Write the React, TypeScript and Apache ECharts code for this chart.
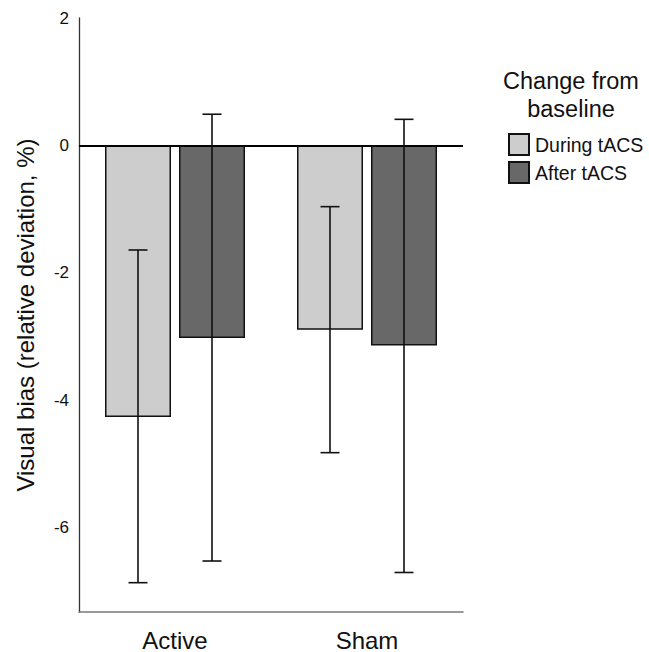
import React, { useEffect, useRef } from "react";
import * as echarts from "echarts";

const categories = ["Active", "Sham"];
const seriesNames = ["During tACS", "After tACS"];
const duringValues = [-4.26, -2.89];
const afterValues = [-3.02, -3.14];
const duringErrLow = [-6.86, -4.82];
const duringErrHigh = [-1.64, -0.96];
const afterErrLow = [-6.52, -6.70];
const afterErrHigh = [0.49, 0.41];
const yTickValues = [-6, -4, -2, 0, 2];

const BAR_W = 66;
const BAR_GAP = 8;
const CAP_W = 19;
const FONT = "'Liberation Sans', Arial, sans-serif";
const TEXT = "#111";

function errData(low: number[], high: number[]) {
  return categories.map((_, i) => [i, low[i], high[i]]);
}

function makeErrRender(offset: number) {
  return (params: any, api: any) => {
    const idx = api.value(0);
    const lo = api.coord([idx, api.value(1)]);
    const hi = api.coord([idx, api.value(2)]);
    const x = lo[0] + offset;
    const style = { stroke: "#111", lineWidth: 1.6 };
    return {
      type: "group",
      children: [
        { type: "line", shape: { x1: x, y1: hi[1], x2: x, y2: lo[1] }, style },
        { type: "line", shape: { x1: x - CAP_W / 2, y1: hi[1], x2: x + CAP_W / 2, y2: hi[1] }, style },
        { type: "line", shape: { x1: x - CAP_W / 2, y1: lo[1], x2: x + CAP_W / 2, y2: lo[1] }, style },
      ],
    };
  };
}

export default function App() {
  const ref = useRef<HTMLDivElement>(null);
  useEffect(() => {
    if (!ref.current) return;
    const chart = echarts.init(ref.current, null, { renderer: "svg" });
    const off = (BAR_W + BAR_GAP) / 2;
    chart.setOption({
      animation: false,
      textStyle: { fontFamily: FONT, color: TEXT },
      title: {
        text: "Change from\nbaseline",
        left: 566,
        top: 62,
        textAlign: "center",
        textStyle: { fontFamily: FONT, fontSize: 23.5, fontWeight: "normal", color: TEXT, lineHeight: 28 },
      },
      legend: {
        orient: "vertical",
        left: 503,
        top: 128,
        itemWidth: 20,
        itemHeight: 21,
        itemGap: 5,
        icon: "rect",
        data: seriesNames,
        textStyle: { fontFamily: FONT, fontSize: 19.5, color: TEXT, padding: [0, 0, 0, 1] },
      },
      grid: { left: 79, top: 18, right: 186, bottom: 40, containLabel: false },
      xAxis: {
        type: "category",
        data: categories,
        axisLine: { show: true, onZero: false, lineStyle: { color: "#777", width: 1.5 } },
        axisTick: { show: false },
        axisLabel: { fontFamily: FONT, fontSize: 24, color: TEXT, margin: 16 },
      },
      yAxis: {
        type: "value",
        min: -7.32,
        max: 2,
        name: "Visual bias (relative deviation, %)",
        nameLocation: "middle",
        nameGap: 42,
        nameTextStyle: { fontFamily: FONT, fontSize: 24, color: TEXT },
        axisLine: { show: true, lineStyle: { color: "#333", width: 1.3 } },
        axisTick: { show: false },
        splitLine: { show: false },
        axisLabel: {
          customValues: yTickValues,
          fontFamily: FONT,
          fontSize: 17,
          color: TEXT,
          margin: 10,
        },
      },
      series: [
        {
          name: seriesNames[0],
          type: "bar",
          data: duringValues,
          barWidth: BAR_W,
          barGap: `${(BAR_GAP / BAR_W) * 100}%`,
          itemStyle: { color: "#cdcdcd", borderColor: "#111", borderWidth: 1.5 },
          markLine: {
            silent: true,
            symbol: "none",
            label: { show: false },
            lineStyle: { color: "#000", width: 2.2, type: "solid" },
            data: [{ yAxis: 0 }],
          },
        },
        {
          name: seriesNames[1],
          type: "bar",
          data: afterValues,
          barWidth: BAR_W,
          itemStyle: { color: "#686868", borderColor: "#111", borderWidth: 1.5 },
        },
        {
          type: "custom",
          renderItem: makeErrRender(-off),
          data: errData(duringErrLow, duringErrHigh),
          z: 10,
        },
        {
          type: "custom",
          renderItem: makeErrRender(off),
          data: errData(afterErrLow, afterErrHigh),
          z: 10,
        },
      ],
    });
    return () => chart.dispose();
  }, []);
  return (
    <div
      ref={ref}
      style={{ position: "fixed", left: 0, top: 0, width: 649, height: 652, background: "#fff" }}
    />
  );
}
